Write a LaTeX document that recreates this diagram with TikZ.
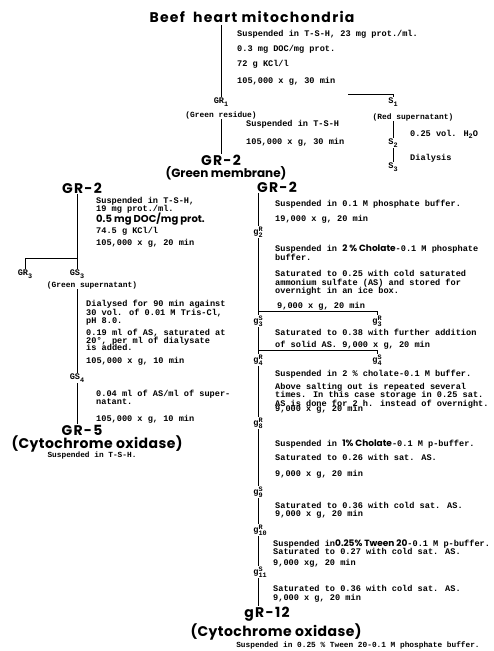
\documentclass[tikz,border=0pt]{standalone}
\usepackage{fontspec}
\newfontfamily\tw{Liberation Mono}
\newfontfamily\hdf{Poppins}
\newcommand\bsf[2][9]{{\hdf\bfseries\fontsize{#1}{#1}\selectfont #2}}
\newcommand\subx[1]{\raisebox{-2.5pt}{\fontsize{6.8}{6.8}\selectfont #1}}
\newcommand\supx[1]{\raisebox{3.2pt}{\fontsize{6.8}{6.8}\selectfont #1}}
\newcommand\gsr[2]{g\rlap{\supx{#1}}\subx{#2}}
\begin{document}
\begin{tikzpicture}[x=1pt,y=-1pt,
  tx/.style={font=\tw\bfseries\fontsize{8.6}{8.6}\selectfont, anchor=base west, inner sep=0pt},
  tc/.style={font=\tw\bfseries\fontsize{7.9}{7.9}\selectfont, inner sep=0.5pt},
  lb/.style={font=\tw\bfseries\fontsize{8.6}{8.6}\selectfont, inner sep=0.8pt},
  hd/.style={font=\hdf\bfseries\addfontfeatures{LetterSpace=9}\fontsize{14}{14}\selectfont, inner sep=0.5pt},
  hm/.style={font=\hdf\bfseries\fontsize{12}{12}\selectfont, inner sep=0.5pt},
  hc/.style={font=\hdf\bfseries\addfontfeatures{LetterSpace=3}\fontsize{14}{14}\selectfont, inner sep=0.5pt},
  ln/.style={line width=1pt}]
\useasboundingbox (0,0) rectangle (493,651);

% ---------- top ----------
\node[hd] (title) at (252,17) {Beef\hspace{4pt} heart mitochondria};
\node[tx] (a1) at (237,36) {Suspended in T-S-H, 23 mg prot./ml.};
\node[tx] (a2) at (237,51) {0.3 mg DOC/mg prot.};
\node[tx] (a3) at (237,66) {72 g KCl/l};
\node[tx] (a4) at (237,83) {105,000 x g, 30 min};
\node[lb] (GR1) at (221,102) {GR\subx{1}};
\node[tc] (gres) at (221,115) {(Green residue)};
\node[tx] (b1) at (246,126) {Suspended in T-S-H};
\node[tx] (b2) at (246,144) {105,000 x g, 30 min};

\node[lb] (S1) at (393,102) {S\subx{1}};
\node[tc] (red) at (413,117) {(Red supernatant)};
\node[lb] (S2) at (393,143) {S\subx{2}};
\node[lb] (S3) at (393,167) {S\subx{3}};
\node[tx] (c1) at (410,136) {0.25 vol. H\subx{2}O};
\node[tx] (c2) at (410,160) {Dialysis};
\coordinate (bS) at (348,94);

\node[hd] (GR2c) at (221,160) {GR-2};
\node[hm] (gmem) at (226,173) {(Green membrane)};
\node[hd] (GR2R) at (277,187) {GR-2};
\node[hd] (GR2L) at (82,188) {GR-2};

\draw[ln] (title.south -| GR1.north) ++(0,2) -- (GR1.north);
\draw[ln] (bS) -- (bS -| S1) -- (S1.north);
\draw[ln] (gres.south -| GR1) -- (GR2c.north -| GR1);
\draw[ln] (red.south -| S2) -- (S2.north);
\draw[ln] (S2.south) -- (S3.north);

% ---------- left column ----------
\node[tx] (d1) at (96,203) {Suspended in T-S-H,};
\node[tx] (d2) at (96,211) {19 mg prot./ml.};
\node[tx] (d3) at (96,222) {\bsf[10]{0.5 mg DOC/mg prot.}};
\node[tx] (d4) at (96,233) {74.5 g KCl/l};
\node[tx] (d5) at (96,245) {105,000 x g, 20 min};
\node[lb] (GR3) at (25,274) {GR\subx{3}};
\node[lb] (GS3) at (77,274) {GS\subx{3}};
\node[tc] (gsup) at (92,285) {(Green supernatant)};
\coordinate (bL) at (77,258);
\node[tx] (e1) at (86,306) {Dialysed for 90 min against};
\node[tx] (e2) at (86,315) {30 vol. of 0.01 M Tris-Cl,};
\node[tx] (e3) at (86,323) {pH 8.0.};
\node[tx] (e4) at (86,335) {0.19 ml of AS, saturated at};
\node[tx] (e5) at (86,343) {20°, per ml of dialysate};
\node[tx] (e6) at (86,350) {is added.};
\node[tx] (e7) at (86,363) {105,000 x g, 10 min};
\node[lb] (GS4) at (77,378) {GS\subx{4}};
\node[tx] (f1) at (96,396) {0.04 ml of AS/ml of super-};
\node[tx] (f2) at (96,404) {natant.};
\node[tx] (f3) at (96,421) {105,000 x g, 10 min};
\node[hd] (GR5) at (82,430) {GR-5};
\node[hc] (cyt1) at (97,444) {(Cytochrome oxidase)};
\node[tc,font=\tw\bfseries\fontsize{7.8}{7.8}\selectfont] (f4) at (92,455) {Suspended in T-S-H.};

\draw[ln] (GR2L.south -| GS3) -- (GS3.north);
\draw[ln] (bL) -| (GR3.north);
\draw[ln] (gsup.south -| GS4) -- (GS4.north);
\draw[ln] (GS4.south) -- (GR5.north -| GS4);

% ---------- right column ----------
\node[tx] (g1) at (275,206) {Suspended in 0.1 M phosphate buffer.};
\node[tx] (g2) at (275,221) {19,000 x g, 20 min};
\node[lb] (gR2) at (258,232) {\gsr{R}{2}};
\node[tx] (h1) at (275,251) {Suspended in \bsf{2 \% Cholate}-0.1 M phosphate};
\node[tx] (h2) at (275,260) {buffer.};
\node[tx] (h3) at (275,276) {Saturated to 0.25 with cold saturated};
\node[tx] (h4) at (275,285) {ammonium sulfate (AS) and stored for};
\node[tx] (h5) at (275,293) {overnight in an ice box.};
\node[tx] (h6) at (277,308) {9,000 x g, 20 min};
\coordinate (bR1) at (258,311);
\node[lb] (gS3) at (258,321) {\gsr{S}{3}};
\node[lb] (gR3) at (377,321) {\gsr{R}{3}};
\node[tx] (i1) at (275,335) {Saturated to 0.38 with further addition};
\node[tx] (i2) at (275,347) {of solid AS.  9,000 x g, 20 min};
\coordinate (bR2) at (258,350);
\node[lb] (gR4) at (258,360) {\gsr{R}{4}};
\node[lb] (gS4) at (377,360) {\gsr{S}{4}};
\node[tx] (j1) at (275,376) {Suspended in 2 \% cholate-0.1 M buffer.};
\node[tx] (j2) at (275,389) {Above salting out is repeated several};
\node[tx] (j3) at (275,397) {times. In this case storage in 0.25 sat.};
\node[tx] (j4) at (275,406) {AS is done for 2 h. instead of overnight.};
\node[tx] (j5) at (275,411) {9,000 x g, 20 min};
\node[lb] (gR8) at (258,423) {\gsr{R}{8}};
\node[tx] (k1) at (275,446) {Suspended in \bsf{1\% Cholate}-0.1 M p-buffer.};
\node[tx] (k2) at (275,460) {Saturated to 0.26 with sat. AS.};
\node[tx] (k3) at (275,476) {9,000 x g, 20 min};
\node[lb] (gS9) at (258,492) {\gsr{S}{9}};
\node[tx] (l1) at (275,508) {Saturated to 0.36 with cold sat. AS.};
\node[tx] (l2) at (275,516) {9,000 x g, 20 min};
\node[lb] (gR10) at (260,530) {\gsr{R}{10}};
\node[tx] (m1) at (273,546) {Suspended in\bsf{0.25\% Tween 20}-0.1 M p-buffer.};
\node[tx] (m2) at (273,554) {Saturated to 0.27 with cold sat. AS.};
\node[tx] (m3) at (273,565) {9,000 xg, 20 min};
\node[lb] (gS11) at (260,572) {\gsr{S}{11}};
\node[tx] (n1) at (273,591) {Saturated to 0.36 with cold sat. AS.};
\node[tx] (n2) at (273,600) {9,000 x g, 20 min};
\node[hd] (gR12) at (267,614) {gR-12};
\node[hc] (cyt2) at (276,632) {(Cytochrome oxidase)};
\node[tc,font=\tw\bfseries\fontsize{7.8}{7.8}\selectfont] (n3) at (358,645) {Suspended in 0.25 \% Tween 20-0.1 M phosphate buffer.};

\draw[ln] (GR2R.south -| bR1) -- (gR2.north -| bR1);
\draw[ln] (gR2.south -| bR1) -- (gS3.north -| bR1);
\draw[ln] (bR1) -| (gR3.north);
\draw[ln] (gS3.south -| bR1) -- (gR4.north -| bR1);
\draw[ln] (bR2) -| (gS4.north);
\draw[ln] (gR4.south -| bR1) -- (gR8.north -| bR1);
\draw[ln] (gR8.south -| bR1) -- (gS9.north -| bR1);
\draw[ln] (gS9.south -| bR1) -- (gR10.north -| bR1);
\draw[ln] (gR10.south -| bR1) -- (gS11.north -| bR1);
\draw[ln] (gS11.south -| bR1) -- (gR12.north -| bR1);
\end{tikzpicture}
\end{document}
